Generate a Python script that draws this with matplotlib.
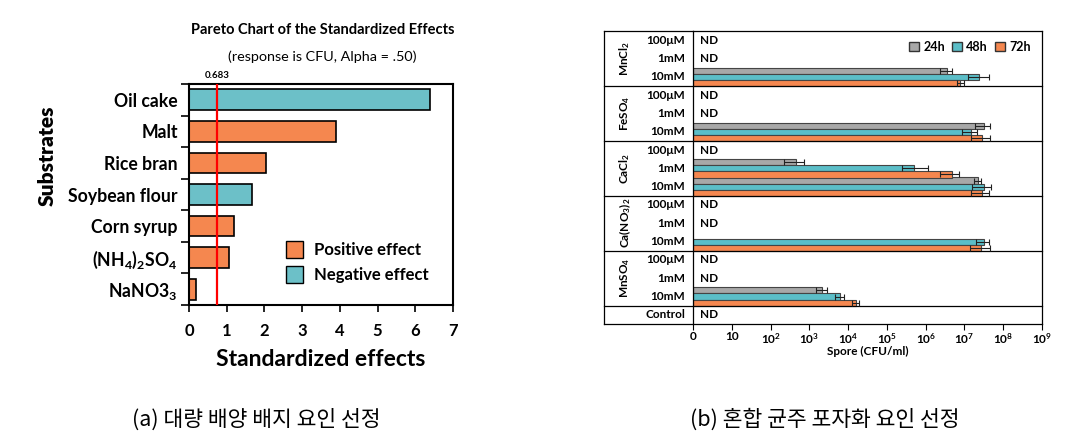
import numpy as np
import matplotlib.pyplot as plt
from matplotlib.patches import Patch
from matplotlib import transforms

plt.rcParams['font.family'] = ['Lato', 'DejaVu Sans']
plt.rcParams['mathtext.fontset'] = 'custom'
plt.rcParams['mathtext.rm'] = 'Lato'
plt.rcParams['mathtext.bf'] = 'Lato:bold'
plt.rcParams['mathtext.default'] = 'bf'

# (a) Pareto chart data
substrates = ['Oil cake', 'Malt', 'Rice bran', 'Soybean flour', 'Corn syrup',
              '(NH$_4$)$_2$SO$_4$', 'NaNO3$_3$']
effects = [6.38, 3.90, 2.03, 1.66, 1.20, 1.06, 0.19]
positive = [False, True, True, False, True, True, True]
cutoff_pos = 0.75
cutoff_label = '0.683'

# (b) spore counts, rows = group x concentration, last row = control
groups = ['MnCl$_2$', 'FeSO$_4$', 'CaCl$_2$', 'Ca(NO$_3$)$_2$', 'MnSO$_4$']
concs = ['100μM', '1mM', '10mM']
nan = np.nan
spore_24h = [nan, nan, 3.6e6, nan, nan, 3.2e7, nan, 450, 2.25e7, nan, nan, nan, nan, nan, 2150, nan]
spore_48h = [nan, nan, 2.4e7, nan, nan, 1.46e7, nan, 5.0e5, 3.2e7, nan, nan, 3.2e7, nan, nan, 6100, nan]
spore_72h = [nan, nan, 7.9e6, nan, nan, 2.9e7, nan, 4.8e6, 2.9e7, nan, nan, 2.75e7, nan, nan, 1.58e4, nan]
err_24h = [nan, nan, 1.2e6, nan, nan, 1.3e7, nan, 280, 5e6, nan, nan, nan, nan, nan, 700, nan]
err_48h = [nan, nan, 2.0e7, nan, nan, 6e6, nan, 6.5e5, 1.7e7, nan, nan, 1.2e7, nan, nan, 1600, nan]
err_72h = [nan, nan, 1.6e6, nan, nan, 1.6e7, nan, 2.6e6, 1.5e7, nan, nan, 1.7e7, nan, nan, 3500, nan]
time_labels = ['24h', '48h', '72h']
time_colors = ['#A8A8A8', '#5BBEC8', '#F5874F']

orange = '#F5874F'
teal = '#6CC0C8'

fig = plt.figure(figsize=(10.79, 4.37), dpi=100)

# ---------------- (a) ----------------
ax1 = fig.add_axes([189 / 1079, 1 - 305 / 437, 264 / 1079, 221 / 437])
y = np.arange(len(substrates))
cols = [orange if p else teal for p in positive]
ax1.barh(y, effects, height=0.66, color=cols, edgecolor='black', linewidth=1.2, zorder=2)
ax1.axvline(cutoff_pos, color='red', lw=1.6, zorder=3)
ax1.set_xlim(0, 7)
ax1.set_ylim(len(substrates) - 0.5, -0.5)
ax1.set_yticks(y)
ax1.set_yticklabels(substrates, fontsize=12.7, fontweight='bold')
ax1.set_yticks(np.arange(-0.5, len(substrates)), minor=True)
ax1.tick_params(axis='y', which='major', length=0, pad=8)
ax1.tick_params(axis='y', which='minor', length=6, width=1.2, direction='out')
ax1.set_xticks(range(8))
ax1.set_xticklabels([str(i) for i in range(8)], fontsize=12, fontweight='bold')
ax1.tick_params(axis='x', length=5, width=1.2, pad=8)
for s in ax1.spines.values():
    s.set_linewidth(1.5)
ax1.set_xlabel('Standardized effects', fontsize=16.5, fontweight='bold', labelpad=7)
fig.text(47 / 1079, 1 - 156 / 437, 'Substrates', rotation=90, ha='center',
         va='center', fontsize=15, fontweight='heavy')
ax1.text(cutoff_pos, 1.02, cutoff_label, transform=ax1.get_xaxis_transform(),
         ha='center', va='bottom', fontsize=7, fontweight='bold')
fig.text(323 / 1079, 1 - 30 / 437, 'Pareto Chart of the Standardized Effects',
         ha='center', va='center', fontsize=10.5, fontweight='bold')
fig.text(322 / 1079, 1 - 57 / 437, '(response is CFU, Alpha = .50)',
         ha='center', va='center', fontsize=10.4)
ax1.legend(handles=[Patch(facecolor=orange, edgecolor='black', label='Positive effect'),
                    Patch(facecolor=teal, edgecolor='black', label='Negative effect')],
           loc='lower right', bbox_to_anchor=(0.963, 0.03), frameon=False,
           prop={'size': 12, 'weight': 'bold'}, handlelength=1.0, handleheight=1.2,
           handletextpad=0.65, labelspacing=0.5)

# ---------------- (b) ----------------
ax2 = fig.add_axes([693 / 1079, 1 - 324 / 437, 349 / 1079, 293 / 437])
nrows = len(groups) * len(concs) + 1
rows = np.arange(nrows) + 0.5
series = [(spore_24h, err_24h), (spore_48h, err_48h), (spore_72h, err_72h)]
for k, (vals, errs) in enumerate(series):
    v = np.array(vals, dtype=float)
    e = np.array(errs, dtype=float)
    yy = rows + (k - 1) / 3
    m = ~np.isnan(v)
    ax2.barh(yy[m], v[m] - 1, left=1, height=1 / 3, color=time_colors[k],
             edgecolor='#444444', linewidth=0.8, zorder=2)
    lo = np.minimum(e[m], 0.5 * v[m])
    ax2.errorbar(v[m], yy[m], xerr=[lo, e[m]], fmt='none', ecolor='#222222',
                 elinewidth=0.8, capsize=2, capthick=0.8, zorder=3)

ax2.set_xscale('log')
ax2.set_xlim(1, 1e9)
ax2.set_ylim(nrows, 0)
ticks = [10.0 ** i for i in range(10)]
tlabels = ['0', '10'] + ['$10^{%d}$' % i for i in range(2, 10)]
ax2.set_xticks(ticks)
ax2.set_xticklabels(tlabels, fontsize=8.5, fontweight='bold')
ax2.xaxis.set_minor_locator(plt.NullLocator())
ax2.tick_params(axis='x', length=4, width=0.8, pad=1)
ax2.set_yticks([])
ax2.set_xlabel('Spore (CFU/ml)', fontsize=8.5, fontweight='bold', labelpad=0)
for s in ax2.spines.values():
    s.set_linewidth(0.9)

bt = transforms.blended_transform_factory(ax2.transAxes, ax2.transData)
xl = (604 - 693) / 349
frame_kw = dict(color='black', lw=0.9, transform=bt, clip_on=False)
ax2.plot([xl, 0], [0, 0], **frame_kw)
ax2.plot([xl, 0], [nrows, nrows], **frame_kw)
ax2.plot([xl, xl], [0, nrows], **frame_kw)
for g in range(1, len(groups) + 1):
    ax2.plot([xl, 1], [3 * g, 3 * g], **frame_kw)

row_labels = [c for _ in groups for c in concs] + ['Control']
all_vals = np.array([spore_24h, spore_48h, spore_72h], dtype=float)
for r, lab in enumerate(row_labels):
    ax2.text(-0.023, rows[r], lab, transform=bt, ha='right', va='center',
             fontsize=8.5, fontweight='bold')
    if np.all(np.isnan(all_vals[:, r])):
        ax2.text(0.02, rows[r], 'ND', transform=bt, ha='left', va='center',
                 fontsize=8.5, fontweight='bold')
for g, name in enumerate(groups):
    ax2.text((625 - 693) / 349, 3 * g + 1.5, name, transform=bt, ha='center',
             va='center', rotation=90, fontsize=8.5, fontweight='bold')

ax2.legend(handles=[Patch(facecolor=c, edgecolor='#333333', label=l)
                    for c, l in zip(time_colors, time_labels)],
           loc='upper right', bbox_to_anchor=(1.0, 1.005), ncol=3, frameon=False,
           prop={'size': 9, 'weight': 'bold'}, handlelength=0.8, handleheight=0.8,
           handletextpad=0.3, columnspacing=0.6)

# captions
cap_font = ['Noto Sans CJK KR', 'DejaVu Sans']
fig.text(256 / 1079, 1 - 420 / 437, '(a) 대량 배양 배지 요인 선정', ha='center',
         va='center', fontsize=15.5, family=cap_font, fontweight='light')
fig.text(825 / 1079, 1 - 420 / 437, '(b) 혼합 균주 포자화 요인 선정', ha='center',
         va='center', fontsize=15.5, family=cap_font, fontweight='light')

fig.savefig('out.png', dpi=100)
